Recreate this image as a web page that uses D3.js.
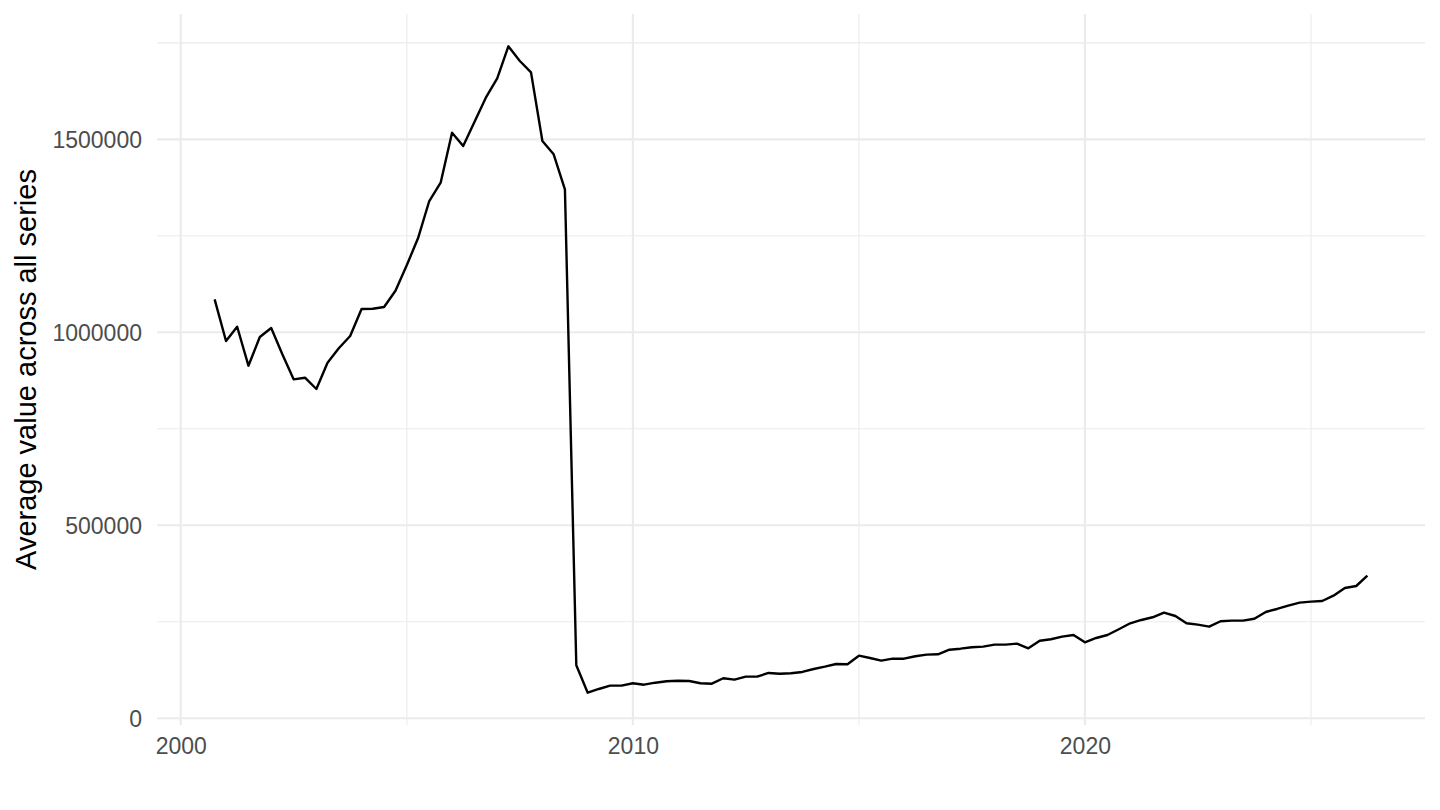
<!DOCTYPE html>
<html>
<head>
<meta charset="utf-8">
<script src="https://cdn.jsdelivr.net/npm/d3@7"></script>
<style>
  html, body { margin: 0; padding: 0; background: #ffffff; }
  svg { display: block; }
  text { font-family: "Liberation Sans", Arial, Helvetica, sans-serif; }
</style>
</head>
<body>
<svg id="chart" width="1440" height="810"></svg>
<script>
// ---- data ----
const quarters = [
  "2000-Q4",
  "2001-Q1","2001-Q2","2001-Q3","2001-Q4",
  "2002-Q1","2002-Q2","2002-Q3","2002-Q4",
  "2003-Q1","2003-Q2","2003-Q3","2003-Q4",
  "2004-Q1","2004-Q2","2004-Q3","2004-Q4",
  "2005-Q1","2005-Q2","2005-Q3","2005-Q4",
  "2006-Q1","2006-Q2","2006-Q3","2006-Q4",
  "2007-Q1","2007-Q2","2007-Q3","2007-Q4",
  "2008-Q1","2008-Q2","2008-Q3","2008-Q4",
  "2009-Q1","2009-Q2","2009-Q3","2009-Q4",
  "2010-Q1","2010-Q2","2010-Q3","2010-Q4",
  "2011-Q1","2011-Q2","2011-Q3","2011-Q4",
  "2012-Q1","2012-Q2","2012-Q3","2012-Q4",
  "2013-Q1","2013-Q2","2013-Q3","2013-Q4",
  "2014-Q1","2014-Q2","2014-Q3","2014-Q4",
  "2015-Q1","2015-Q2","2015-Q3","2015-Q4",
  "2016-Q1","2016-Q2","2016-Q3","2016-Q4",
  "2017-Q1","2017-Q2","2017-Q3","2017-Q4",
  "2018-Q1","2018-Q2","2018-Q3","2018-Q4",
  "2019-Q1","2019-Q2","2019-Q3","2019-Q4",
  "2020-Q1","2020-Q2","2020-Q3","2020-Q4",
  "2021-Q1","2021-Q2","2021-Q3","2021-Q4",
  "2022-Q1","2022-Q2","2022-Q3","2022-Q4",
  "2023-Q1","2023-Q2","2023-Q3","2023-Q4",
  "2024-Q1","2024-Q2","2024-Q3","2024-Q4",
  "2025-Q1","2025-Q2","2025-Q3","2025-Q4",
  "2026-Q1","2026-Q2"
];
const averageValues = [
  1085500,
  977500, 1014500, 913500, 987800,
  1011200, 943000, 878200, 882400,
  853100, 921300, 958600, 990400,
  1060400, 1061200, 1065600, 1107800,
  1174400, 1243500, 1340200, 1387600,
  1517100, 1482700, 1544800, 1607800,
  1658000, 1741000, 1703600, 1673600,
  1495600, 1461200, 1370500, 137300,
  66300, 75900, 84500, 84500,
  90700, 87000, 92200, 95900,
  97400, 96600, 90700, 89600,
  103600, 100000, 107800, 107800,
  117400, 115500, 116600, 120000,
  127700, 133700, 140700, 139900,
  162200, 156200, 149200, 154400,
  154400, 160600, 164800, 165800,
  177700, 180300, 183900, 185500,
  190700, 190700, 193300, 181300,
  201000, 204700, 211400, 215800,
  196900, 208000, 215800, 230600,
  246100, 254700, 261700, 273600,
  265000, 246100, 242500, 237300,
  251300, 252900, 252900, 258000,
  275400, 283200, 291700, 299500,
  302100, 303900, 317600, 337600,
  342700, 369400
];
const yMajorTicks = [0, 500000, 1000000, 1500000];
const yMinorTicks = [250000, 750000, 1250000, 1750000];
const xMajorYears = [2000, 2010, 2020];
const xMinorYears = [2005, 2015, 2025];
const yTitle = "Average value across all series";

// ---- build rows ----
function parseQuarter(q) {
  const [y, qq] = q.split("-Q");
  return new Date(Date.UTC(+y, (+qq - 1) * 3, 1));
}
const rows = quarters.map((q, i) => ({ date: parseQuarter(q), value: averageValues[i] }));

// ---- layout ----
const panel = { left: 157, right: 1425, top: 14, bottom: 725 };
const svg = d3.select("#chart");

// ggplot-like 5% expansion
const xExt = d3.extent(rows, d => +d.date);
const xPad = (xExt[1] - xExt[0]) * 0.05;
const x = d3.scaleUtc()
  .domain([new Date(xExt[0] - xPad), new Date(xExt[1] + xPad)])
  .range([panel.left, panel.right]);

const yExt = d3.extent(rows, d => d.value);
const yPad = (yExt[1] - yExt[0]) * 0.05;
const y = d3.scaleLinear()
  .domain([yExt[0] - yPad, yExt[1] + yPad])
  .range([panel.bottom, panel.top]);

const yearDate = yr => new Date(Date.UTC(yr, 0, 1));
const grid = svg.append("g").attr("class", "grid");

// minor grid
grid.selectAll("line.ymin").data(yMinorTicks).join("line")
  .attr("x1", panel.left).attr("x2", panel.right)
  .attr("y1", d => y(d)).attr("y2", d => y(d))
  .attr("stroke", "#ebebeb").attr("stroke-width", 1.1);
grid.selectAll("line.xmin").data(xMinorYears).join("line")
  .attr("y1", panel.top).attr("y2", panel.bottom)
  .attr("x1", d => x(yearDate(d))).attr("x2", d => x(yearDate(d)))
  .attr("stroke", "#ebebeb").attr("stroke-width", 1.1);
// major grid
grid.selectAll("line.ymaj").data(yMajorTicks).join("line")
  .attr("x1", panel.left).attr("x2", panel.right)
  .attr("y1", d => y(d)).attr("y2", d => y(d))
  .attr("stroke", "#ebebeb").attr("stroke-width", 2.1);
grid.selectAll("line.xmaj").data(xMajorYears).join("line")
  .attr("y1", panel.top).attr("y2", panel.bottom)
  .attr("x1", d => x(yearDate(d))).attr("x2", d => x(yearDate(d)))
  .attr("stroke", "#ebebeb").attr("stroke-width", 2.1);

// axes (labels only, ggplot theme_minimal style)
const yAxis = d3.axisLeft(y).tickValues(yMajorTicks).tickSize(0).tickPadding(15)
  .tickFormat(d => String(d));
const gy = svg.append("g").attr("transform", `translate(${panel.left},0)`).call(yAxis);
gy.select(".domain").remove();
gy.selectAll("text").attr("fill", "#4d4d4d").style("font-size", "23px")
  .attr("dy", "0.36em");

const xAxis = d3.axisBottom(x).tickValues(xMajorYears.map(yearDate)).tickSize(0).tickPadding(13)
  .tickFormat(d3.utcFormat("%Y"));
const gx = svg.append("g").attr("transform", `translate(0,${panel.bottom})`).call(xAxis);
gx.select(".domain").remove();
gx.selectAll("text").attr("fill", "#4d4d4d").style("font-size", "23px");

// y title
svg.append("text")
  .attr("transform", `translate(36,${(panel.top + panel.bottom) / 2}) rotate(-90)`)
  .attr("text-anchor", "middle")
  .attr("fill", "#000000")
  .style("font-size", "29px")
  .text(yTitle);

// line
const line = d3.line().x(d => x(d.date)).y(d => y(d.value));
svg.append("path")
  .datum(rows)
  .attr("fill", "none")
  .attr("stroke", "#000000")
  .attr("stroke-width", 2.4)
  .attr("stroke-linejoin", "round")
  .attr("d", line);
</script>
</body>
</html>
